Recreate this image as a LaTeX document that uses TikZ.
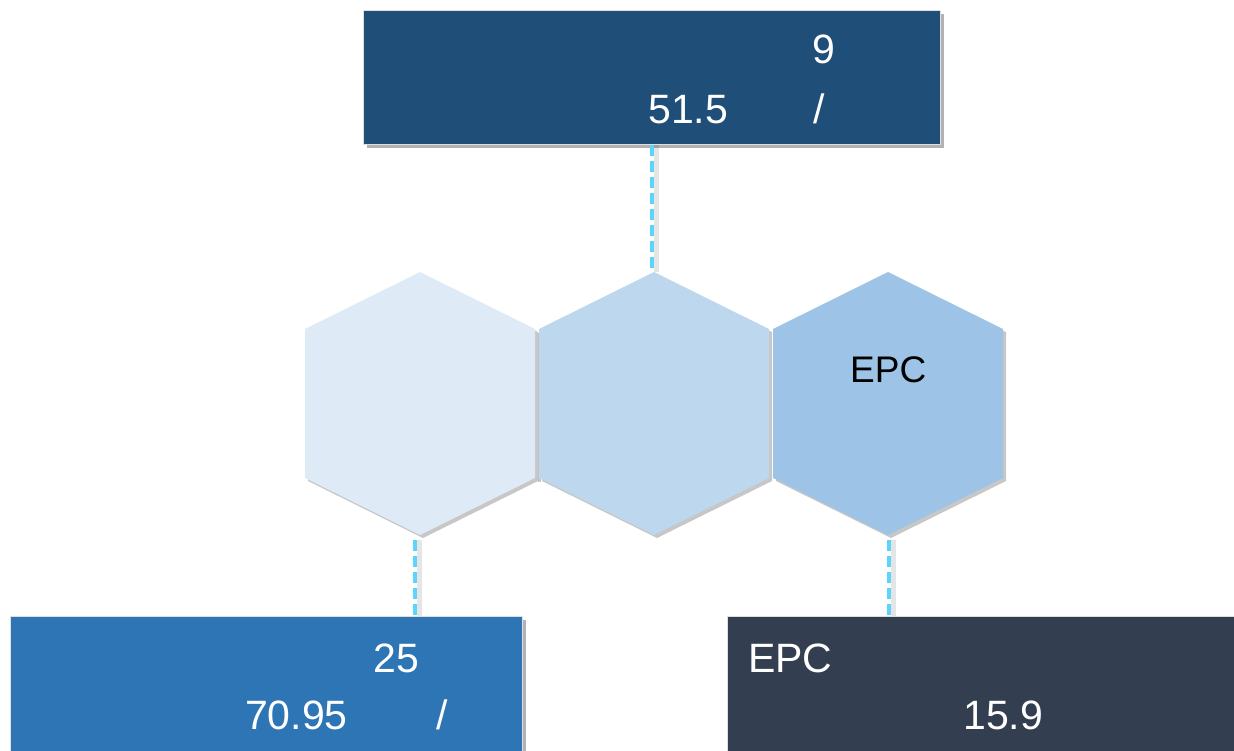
\documentclass[tikz,border=0pt]{standalone}
\usepackage{fontspec}
\setmainfont{Liberation Sans}
\usetikzlibrary{shadows}
\definecolor{topblue}{HTML}{1F4E79}
\definecolor{midblue}{HTML}{2E75B6}
\definecolor{slate}{HTML}{333F50}
\definecolor{hexA}{HTML}{DEEAF6}
\definecolor{hexB}{HTML}{BDD7EE}
\definecolor{hexC}{HTML}{9DC3E6}
\definecolor{dashcol}{HTML}{5CD5FA}
\tikzset{
  infobox/.style={draw=white!75!gray, line width=0.6pt, anchor=north west, inner sep=0pt,
    drop shadow={shadow xshift=4pt, shadow yshift=-4pt, opacity=.3, fill=black}},
  boxtext/.style={text=white, anchor=base west, inner sep=0pt, font=\fontsize{41}{49}\selectfont},
  hextext/.style={text=black, anchor=base west, inner sep=0pt, font=\fontsize{37}{44}\selectfont},
  hexshadow/.style={fill=black, opacity=.22},
  conn/.style={draw=dashcol, line width=4pt, dash pattern=on 11pt off 5pt},
  connshadow/.style={draw=black, opacity=.10, line width=5pt},
}
\begin{document}
\begin{tikzpicture}[x=1pt, y=-1pt]
\useasboundingbox (0,0) rectangle (1234,750);
\clip (0,0) rectangle (1234,750);
\coordinate (h1top) at (420,272);
\coordinate (h1bot) at (420,535);
\coordinate (h2top) at (652,272);
\coordinate (h2bot) at (654,535);
\coordinate (h3top) at (888,272);
\coordinate (h3bot) at (888,535);
% hex shadows
\foreach \cx in {420,654,888}{
  \fill[hexshadow] (\cx+3,275) -- (\cx+118,332) -- (\cx+118,481) -- (\cx+3,538) -- (\cx-112,481) -- (\cx-112,332) -- cycle;
}
% boxes
\node[infobox, fill=topblue, minimum width=577pt, minimum height=134pt] (topbox) at (363,10) {};
\node[infobox, fill=midblue, minimum width=512pt, minimum height=150pt] (llbox) at (10,616) {};
\node[infobox, fill=slate, minimum width=520pt, minimum height=150pt] (lrbox) at (727,616) {};
% connectors
\coordinate (c1) at ([yshift=-5pt]h1bot -| 415,0);
\coordinate (c3) at ([yshift=-5pt]h3bot -| 889,0);
\draw[connshadow] ([xshift=4pt]topbox.south -| h2top) -- ([xshift=4pt]h2top);
\draw[connshadow] ([xshift=4pt]c1) -- ([xshift=4pt]c1 |- llbox.north);
\draw[connshadow] ([xshift=4pt]c3) -- ([xshift=4pt]c3 |- lrbox.north);
\draw[conn] (topbox.south -| h2top) -- ([yshift=4pt]h2top);
\draw[conn] (c1) -- (c1 |- llbox.north);
\draw[conn] (c3) -- (c3 |- lrbox.north);
% hexagons
\fill[hexA] (420,272) -- (535,329) -- (535,478) -- (420,535) -- (305,478) -- (305,329) -- cycle;
\fill[hexshadow] (538,333) -- (538,482) -- (541,482) -- (541,333) -- cycle;
\fill[hexB] (654,272) -- (769,329) -- (769,478) -- (654,535) -- (539,478) -- (539,329) -- cycle;
\fill[hexC] (888,272) -- (1003,329) -- (1003,478) -- (888,535) -- (773,478) -- (773,329) -- cycle;
\node[hextext] (hexepc) at (850,382) {EPC};
% texts
\node[boxtext] (t9) at (812,63) {9};
\node[boxtext] (t515) at (648,123) {51.5};
\node[boxtext] (tsl1) at (813,123) {/};
\node[boxtext] (t25) at (373,672) {25};
\node[boxtext] (t7095) at (245,729) {70.95};
\node[boxtext] (tsl2) at (436,729) {/};
\node[boxtext] (tepc) at (748,672) {EPC};
\node[boxtext] (t159) at (963,729) {15.9};
\end{tikzpicture}
\end{document}
